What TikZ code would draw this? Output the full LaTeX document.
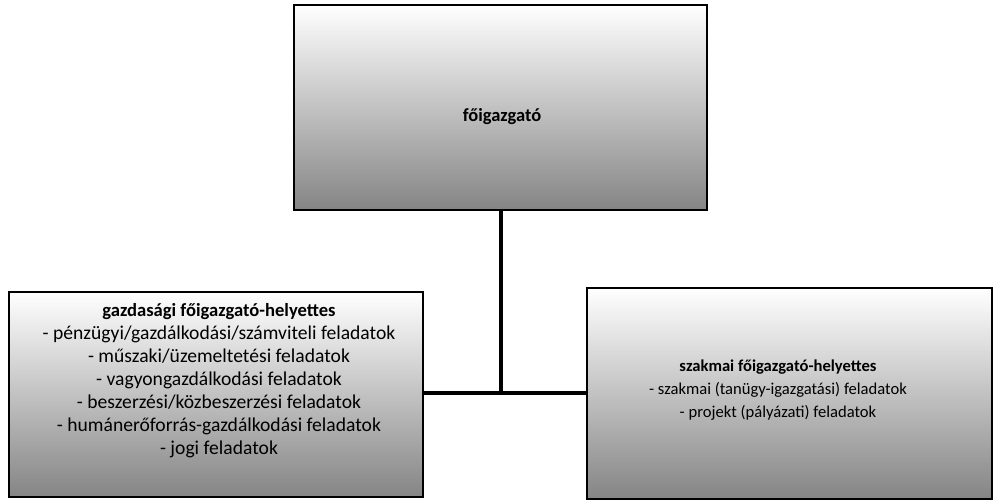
\documentclass[tikz,border=0pt]{standalone}
\usepackage{fontspec}
\setmainfont{Carlito}
\begin{document}
\begin{tikzpicture}[x=1pt,y=-1pt,
  box/.style={draw=black,line width=1.6pt,top color=white,middle color=black!18,bottom color=black!48,shading angle=0,inner sep=0pt},
  lbl/.style={align=center,font=\fontsize{16}{23}\selectfont,text=black},
  bigl/.style={align=center,font=\fontsize{19.6}{23}\selectfont,text=black},
  conn/.style={draw=black,line width=4pt}]
\useasboundingbox (0,0) rectangle (993,503);
\fill[white] (0,0) rectangle (993,503);
% boxes
\node[box,minimum width=413pt,minimum height=205pt] (top) at (500.5,107.5) {};
\node[box,minimum width=414pt,minimum height=205pt] (left) at (216,394.5) {};
\node[box,minimum width=405pt,minimum height=211pt] (right) at (789.5,393.5) {};
% labels
\node[lbl,font=\fontsize{18.5}{23}\selectfont] (toplbl) at (502,117) {\textbf{főigazgató}};
\node[bigl] (leftlbl) at (219,381) {{\fontsize{18.6}{23}\selectfont\textbf{gazdasági főigazgató-helyettes}}\\
- pénzügyi/gazdálkodási/számviteli feladatok\\
- műszaki/üzemeltetési feladatok\\
- vagyongazdálkodási feladatok\\
- beszerzési/közbeszerzési feladatok\\
- humánerőforrás-gazdálkodási feladatok\\
- jogi feladatok};
\node[lbl,font=\fontsize{16.6}{23}\selectfont] (rightlbl) at (778,390) {\textbf{szakmai főigazgató-helyettes}\\
- szakmai (tanügy-igazgatási) feladatok\\
- projekt (pályázati) feladatok};
% connectors
\coordinate (jn) at (501,393);
\draw[conn] (top.south -| jn) -- (jn);
\draw[conn] (left.east |- jn) -- (right.west |- jn);
\end{tikzpicture}
\end{document}
